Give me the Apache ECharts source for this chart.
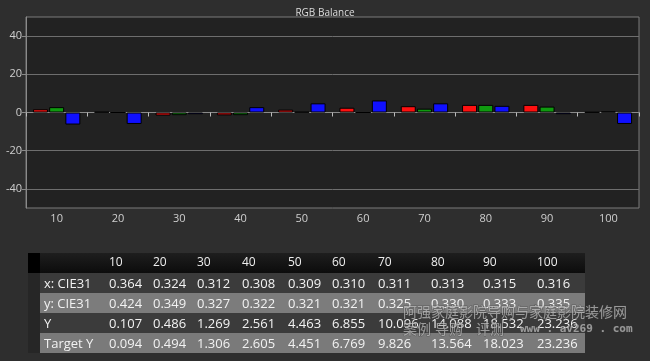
<!DOCTYPE html>
<html><head><meta charset="utf-8">
<script src="https://cdn.jsdelivr.net/npm/echarts@6/dist/echarts.min.js"></script>
<style>html,body{margin:0;padding:0;background:#2e2e2e}#c{width:650px;height:361px}</style>
</head><body><div id="c"></div>
<script>
// ---- data ----
const categories = ['10','20','30','40','50','60','70','80','90','100'];
const redValues   = [1.7, 0.3, -1.6, -1.5, 1.5, 2.5, 3.3, 4.0, 4.0, 0.2];
const greenValues = [2.8, 0, -1.4, -1.4, 0.3, 0, 2.0, 4.0, 3.1, 0.5];
const blueValues  = [-6.3, -6.0, -0.9, 2.8, 4.8, 6.3, 4.8, 3.5, -0.9, -6.0];
const yTickValues = [-40, -20, 0, 20, 40];
const tableHeader = ['10','20','30','40','50','60','70','80','90','100'];
const rowLabels = ['x: CIE31', 'y: CIE31', 'Y', 'Target Y'];
const xCIE31  = ['0.364','0.324','0.312','0.308','0.309','0.310','0.311','0.313','0.315','0.316'];
const yCIE31  = ['0.424','0.349','0.327','0.322','0.321','0.321','0.325','0.330','0.333','0.335'];
const lumY    = ['0.107','0.486','1.269','2.561','4.463','6.855','10.096','14.088','18.532','23.236'];
const targetY = ['0.094','0.494','1.306','2.605','4.451','6.769','9.826','13.564','18.023','23.236'];
const watermark1 = '阿强家庭影院导购与家庭影院装修网';
const watermark2 = ['案例', '导购', '评测'];
const watermark3 = 'www . av269 . com';

// ---- layout ----
const FONT = '"Open Sans", "Noto Sans", sans-serif';
const colX = [109, 153, 197, 242, 288, 332, 378, 431, 483, 537];
const tableLeft = 28, stripW = 12, tableRight = 585;
const headerTop = 253, rowH = 20;
const rowsData = [xCIE31, yCIE31, lumY, targetY];
const rowBg = ['#3b3b3b', '#7c7c7c', '#3b3b3b', '#7a7a7a'];
const wmX = [403, 435, 476];

const graphics = [];
graphics.push({type:'rect', shape:{x:tableLeft, y:headerTop, width:stripW, height:rowH}, style:{fill:'#000'}});
graphics.push({type:'rect', shape:{x:tableLeft+stripW, y:headerTop, width:tableRight-tableLeft-stripW, height:rowH},
  style:{fill:new echarts.graphic.LinearGradient(0,0,0,1,[{offset:0,color:'#1e1e1e'},{offset:1,color:'#0c0c0c'}])}});
tableHeader.forEach((t,i)=>graphics.push({type:'text', x:colX[i], y:headerTop+rowH/2,
  style:{text:t, fill:'#eeeeee', font:'12px '+FONT, verticalAlign:'middle', align:'left'}}));
rowsData.forEach((vals, r)=>{
  const y = headerTop + rowH*(r+1);
  graphics.push({type:'rect', shape:{x:tableLeft, y:y, width:stripW, height:rowH}, style:{fill:'#262626'}});
  graphics.push({type:'rect', shape:{x:tableLeft+stripW, y:y, width:tableRight-tableLeft-stripW, height:rowH}, style:{fill:rowBg[r]}});
  graphics.push({type:'text', x:44, y:y+rowH/2+1, style:{text:rowLabels[r], fill:'#f2f2f2', font:'13px '+FONT, verticalAlign:'middle'}});
  vals.forEach((v,i)=>graphics.push({type:'text', x:colX[i], y:y+rowH/2+1,
    style:{text:v, fill:'#f2f2f2', font:'13px '+FONT, verticalAlign:'middle', align:'left'}}));
});
// watermark
const wmStyle = {fill:'rgba(235,235,235,0.55)', stroke:'rgba(60,60,60,0.5)', lineWidth:1, verticalAlign:'middle'};
graphics.push({type:'text', x:403, y:312, z:100, style:Object.assign({text:watermark1, font:'14px "Noto Sans CJK SC", sans-serif'}, wmStyle)});
watermark2.forEach((t,i)=>graphics.push({type:'text', x:wmX[i], y:329, z:100,
  style:Object.assign({text:t, font:'14px "Noto Sans CJK SC", sans-serif'}, wmStyle)}));
graphics.push({type:'text', x:520, y:329, z:100, style:Object.assign({text:watermark3, font:'bold 11px "DejaVu Sans Mono", monospace'}, wmStyle)});

const barCommon = {type:'bar', barWidth:15, barGap:'8%', barCategoryGap:'20%', z:3};
const chart = echarts.init(document.getElementById('c'), null, {renderer:'canvas'});
chart.setOption({
  backgroundColor:'#2e2e2e',
  animation:false,
  title:{text:'RGB Balance', left:'center', top:3, textStyle:{color:'#dcdcdc', fontSize:10, fontWeight:'normal', fontFamily:FONT}},
  grid:{left:26, right:11, top:17, bottom:153, show:true, backgroundColor:'#222222', borderColor:'#7a7a7a', borderWidth:1},
  xAxis:{type:'category', data:categories, boundaryGap:true,
    axisLine:{lineStyle:{color:'#8a8a8a', width:1}},
    axisTick:{show:true, length:4, lineStyle:{color:'#bbbbbb'}},
    axisLabel:{color:'#cfcfcf', fontSize:11, fontFamily:FONT, margin:5},
    splitLine:{show:false}},
  yAxis:{type:'value', min:-50, max:50,
    axisLine:{show:true, lineStyle:{color:'#8a8a8a'}},
    axisTick:{show:true, length:4, customValues:yTickValues, lineStyle:{color:'#8a8a8a'}},
    axisLabel:{color:'#cfcfcf', fontSize:11, fontFamily:FONT, margin:4, customValues:yTickValues},
    splitLine:{show:true, lineStyle:{color:'#6e6e6e', width:1}}},
  series:[
    Object.assign({name:'R', data:redValues, itemStyle:{color:'#ff1010', borderColor:'#000', borderWidth:1}}, barCommon),
    Object.assign({name:'G', data:greenValues, itemStyle:{color:'#109a10', borderColor:'#000', borderWidth:1}}, barCommon),
    Object.assign({name:'B', data:blueValues, itemStyle:{color:'#1010ff', borderColor:'#000', borderWidth:1}}, barCommon)
  ],
  graphic:graphics
});
</script></body></html>
